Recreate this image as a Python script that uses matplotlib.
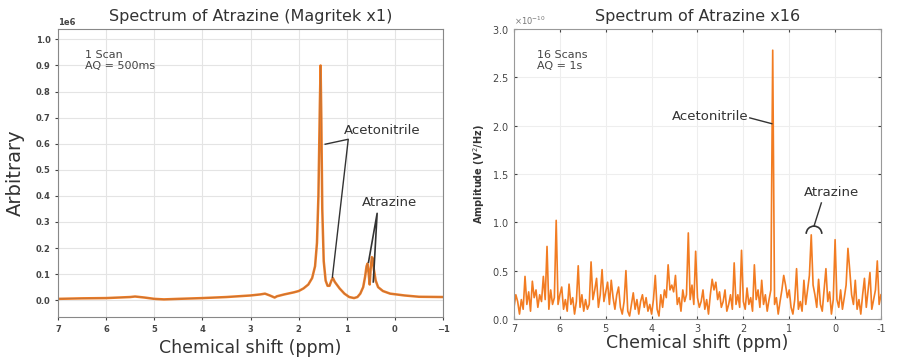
import numpy as np
import matplotlib
matplotlib.use("Agg")
from matplotlib import pyplot as plt
from matplotlib.patches import Arc
from matplotlib.ticker import FormatStrFormatter

# Magritek x1 spectrum (ppm, amplitude in units of 1e6)
mag_ppm = [7.0, 6.5, 6.0, 5.5, 5.4, 5.2, 5.0, 4.8, 4.5, 4.0, 3.5, 3.0, 2.8, 2.7, 2.6,
           2.5, 2.45, 2.3, 2.1, 2.0, 1.9, 1.8, 1.72, 1.66, 1.62, 1.59, 1.56, 1.545,
           1.53, 1.51, 1.48, 1.44, 1.40, 1.36, 1.32, 1.29, 1.25, 1.15, 1.05, 0.95,
           0.85, 0.78, 0.72, 0.66, 0.62, 0.59, 0.57, 0.545, 0.525, 0.505, 0.48,
           0.46, 0.44, 0.40, 0.35, 0.25, 0.1, -0.2, -0.5, -1.0]
mag_amp = [0.005, 0.007, 0.008, 0.012, 0.014, 0.010, 0.005, 0.003, 0.005, 0.008,
           0.012, 0.018, 0.022, 0.025, 0.018, 0.010, 0.015, 0.022, 0.030, 0.035,
           0.045, 0.060, 0.085, 0.13, 0.22, 0.40, 0.75, 0.90, 0.70, 0.35, 0.15,
           0.075, 0.055, 0.055, 0.075, 0.085, 0.07, 0.045, 0.025, 0.012, 0.008,
           0.012, 0.025, 0.05, 0.09, 0.13, 0.14, 0.10, 0.06, 0.12, 0.165, 0.16,
           0.12, 0.075, 0.05, 0.035, 0.025, 0.018, 0.013, 0.012]

# x16 spectrum, 0.04 ppm steps from 7 to -1 (amplitude in units of 1e-10)
x16_ppm = np.linspace(7, -1, 201)
x16_amp = [
    # 7.00 .. 6.04
    0.12, 0.25, 0.18, 0.05, 0.20, 0.10, 0.44, 0.15, 0.28, 0.08, 0.39, 0.22, 0.30,
    0.12, 0.25, 0.18, 0.44, 0.20, 0.75, 0.10, 0.30, 0.15, 0.22, 1.02, 0.15,
    # 6.00 .. 5.04
    0.25, 0.33, 0.10, 0.20, 0.08, 0.36, 0.15, 0.22, 0.05, 0.18, 0.55, 0.12, 0.25,
    0.08, 0.20, 0.10, 0.15, 0.59, 0.20, 0.30, 0.42, 0.12, 0.25, 0.51, 0.18,
    # 5.00 .. 4.04
    0.28, 0.38, 0.15, 0.40, 0.22, 0.10, 0.25, 0.33, 0.12, 0.05, 0.18, 0.50, 0.08,
    0.03, 0.15, 0.27, 0.10, 0.20, 0.05, 0.18, 0.25, 0.12, 0.22, 0.08, 0.15,
    # 4.00 .. 3.04
    0.05, 0.20, 0.45, 0.10, 0.03, 0.25, 0.12, 0.30, 0.22, 0.56, 0.30, 0.35, 0.28,
    0.45, 0.15, 0.22, 0.08, 0.30, 0.18, 0.25, 0.89, 0.20, 0.35, 0.15, 0.70,
    # 3.00 .. 2.04
    0.22, 0.12, 0.18, 0.30, 0.10, 0.20, 0.05, 0.25, 0.41, 0.30, 0.38, 0.20, 0.28,
    0.12, 0.18, 0.30, 0.08, 0.15, 0.25, 0.10, 0.58, 0.15, 0.25, 0.12, 0.71,
    # 2.00 .. 1.04
    0.18, 0.10, 0.32, 0.15, 0.22, 0.08, 0.56, 0.20, 0.30, 0.12, 0.40, 0.15, 0.25,
    0.08, 0.20, 0.30, 2.78, 0.15, 0.22, 0.05, 0.18, 0.30, 0.45, 0.35, 0.22,
    # 1.00 .. 0.04
    0.30, 0.12, 0.05, 0.20, 0.52, 0.10, 0.18, 0.08, 0.40, 0.15, 0.30, 0.45, 0.87,
    0.35, 0.25, 0.12, 0.41, 0.15, 0.08, 0.30, 0.52, 0.18, 0.28, 0.05, 0.20,
    # 0.00 .. -0.96
    0.82, 0.20, 0.12, 0.30, 0.10, 0.22, 0.35, 0.73, 0.50, 0.25, 0.15, 0.40, 0.10,
    0.20, 0.05, 0.25, 0.42, 0.12, 0.30, 0.48, 0.10, 0.20, 0.30, 0.60, 0.15,
    # -1.00
    0.25]

orange = "#f27c22"

fig = plt.figure(figsize=(9.07, 3.62), dpi=100)

# ---- left panel
ax1 = fig.add_axes([0.064, 0.124, 0.4245, 0.796])
ax1.plot(mag_ppm, np.array(mag_amp) * 1e6, color=orange, lw=1.8)
ax1.plot(mag_ppm, np.array(mag_amp) * 1e6, color="#8a6a55", lw=0.6, alpha=0.5)
ax1.set_xlim(7, -1)
ax1.set_ylim(-0.065e6, 1.04e6)
ax1.set_yticks(np.arange(0, 1.01, 0.1) * 1e6)
ax1.set_xticks(range(7, -2, -1))
ax1.tick_params(labelsize=6, length=2, colors="#444444")
for lab in ax1.get_xticklabels() + ax1.get_yticklabels():
    lab.set_fontweight("bold")
ax1.yaxis.get_offset_text().set_fontsize(6)
ax1.yaxis.get_offset_text().set_fontweight("bold")
ax1.grid(True, color="#e4e4e4", lw=0.8)
for s in ax1.spines.values():
    s.set_color("#888888")
ax1.set_title("Spectrum of Atrazine (Magritek x1)", fontsize=11.5, color="#333333", pad=6)
ax1.set_xlabel("Chemical shift (ppm)", fontsize=12.5, color="#333333")
ax1.set_ylabel("Arbitrary", fontsize=14, color="#333333", labelpad=8)
ax1.text(6.45, 0.96e6, "1 Scan\nAQ = 500ms", fontsize=8, color="#444444", va="top", linespacing=1.1)
ax1.text(0.27, 0.65e6, "Acetonitrile", fontsize=9.5, color="#333333", ha="center", va="center")
ax1.plot([1.45, 0.97, 1.30], [0.598e6, 0.617e6, 0.088e6], color="#333333", lw=1)
ax1.text(0.12, 0.35e6, "Atrazine", fontsize=9.5, color="#333333", ha="center", va="bottom")
ax1.plot([0.55, 0.37, 0.45], [0.145e6, 0.333e6, 0.07e6], color="#333333", lw=1.2)

# ---- right panel
ax2 = fig.add_axes([0.5667, 0.119, 0.4046, 0.801])
ax2.plot(x16_ppm, np.array(x16_amp) * 1e-10, color=orange, lw=1.2)
ax2.set_xlim(7, -1)
ax2.set_ylim(0, 3e-10)
ax2.set_xticks(range(7, -2, -1))
ax2.set_yticks(np.arange(0, 3.01, 0.5) * 1e-10)
ax2.ticklabel_format(axis="y", style="sci", scilimits=(0, 0), useMathText=True)
ax2.xaxis.set_major_formatter(FormatStrFormatter("%g"))
ax2.tick_params(labelsize=7, direction="in", length=2.5, top=True, right=True, colors="#444444")
ax2.yaxis.get_offset_text().set_fontsize(6)
ax2.yaxis.get_offset_text().set_color("#777777")
ax2.grid(True, color="#eeeeee", lw=0.8)
for s in ax2.spines.values():
    s.set_color("#999999")
ax2.set_title("Spectrum of Atrazine x16", fontsize=11.5, color="#333333", pad=6)
ax2.set_xlabel("Chemical shift (ppm)", fontsize=12.5, color="#333333", labelpad=0)
ax2.set_ylabel("Amplitude (V$^2$/Hz)", fontsize=7, fontweight="bold", color="#333333")
ax2.text(6.5, 2.78e-10, "16 Scans\nAQ = 1s", fontsize=8, color="#444444", va="top", linespacing=1.1)
ax2.text(1.88, 2.09e-10, "Acetonitrile", fontsize=9.5, color="#333333", ha="right", va="center")
ax2.plot([1.86, 1.38], [2.08e-10, 2.02e-10], color="#333333", lw=1)
ax2.text(0.07, 1.31e-10, "Atrazine", fontsize=9.5, color="#333333", ha="center", va="center")
ax2.plot([0.30, 0.46], [1.20e-10, 0.96e-10], color="#333333", lw=1)
ax2.add_patch(Arc((0.46, 0.88e-10), 0.34, 0.16e-10, theta1=0, theta2=180, color="#333333", lw=1.2))

fig.savefig("out.png", dpi=100)
